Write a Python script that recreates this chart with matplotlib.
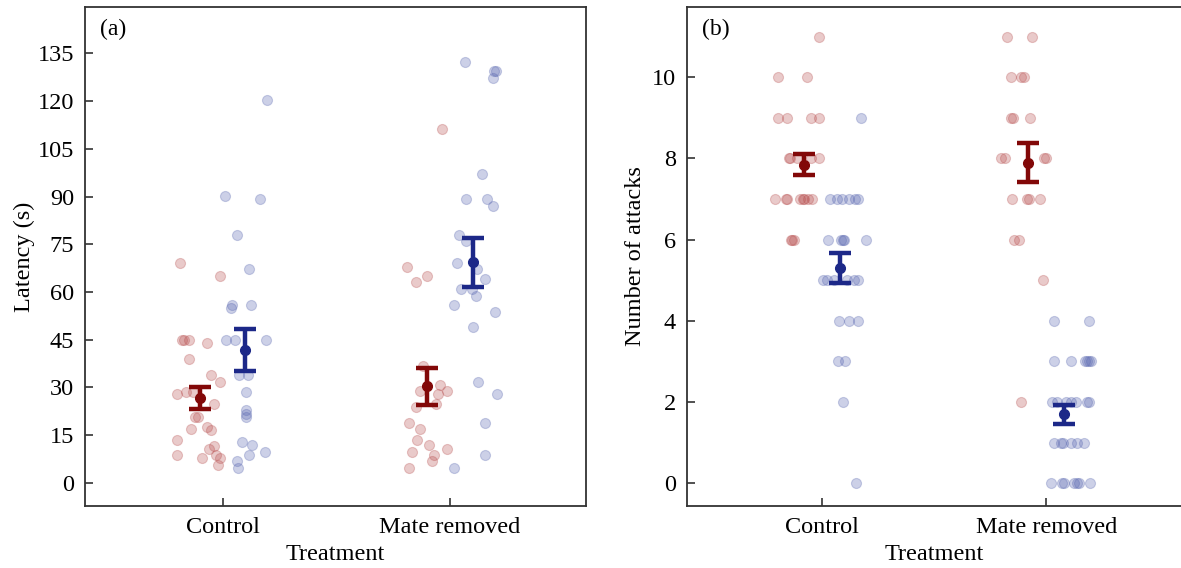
import numpy as np
import matplotlib
matplotlib.use("Agg")
import matplotlib.pyplot as plt

plt.rcParams['font.family'] = ['Liberation Serif', 'DejaVu Serif']

categories = ["Control", "Mate removed"]

# panel (a): latency, values and horizontal jitter
lat_red_ctrl = [69.0, 65.0, 45, 45, 45, 43.8, 38.9, 33.8, 31.8, 27.8, 28.7, 28.6, 24.7,
                20.8, 20.8, 16.8, 17.6, 16.6, 13.6, 11.7, 10.6, 8.7, 7.8, 8.7, 7.8, 5.6]
jit_red_ctrl = [-0.19, -0.01, -0.18, -0.17, -0.15, -0.07, -0.15, -0.05, -0.01, -0.20, -0.16, -0.13, -0.04,
                -0.12, -0.11, -0.14, -0.07, -0.05, -0.20, -0.04, -0.06, -0.20, -0.09, -0.03, -0.01, -0.02]
lat_blue_ctrl = [120.3, 90.2, 89.1, 78.0, 67.1, 55.9, 55.0, 55.9, 44.9, 44.9, 44.9, 33.8, 33.8,
                 28.6, 22.9, 21.6, 20.8, 12.7, 11.8, 9.8, 8.7, 6.7, 4.6]
jit_blue_ctrl = [0.194, 0.011, 0.164, 0.064, 0.117, 0.040, 0.035, 0.125, 0.013, 0.054, 0.189, 0.073, 0.110,
                 0.103, 0.103, 0.103, 0.103, 0.086, 0.130, 0.186, 0.117, 0.062, 0.069]
lat_red_mr = [111.2, 67.9, 65.0, 63.0, 36.7, 30.6, 28.8, 28.8, 27.8, 23.7, 24.7, 18.9, 16.8,
              13.6, 11.8, 10.7, 9.8, 8.7, 6.7, 4.6]
jit_red_mr = [-0.034, -0.188, -0.100, -0.151, -0.120, -0.044, -0.132, -0.012, -0.051, -0.151, -0.062, -0.179, -0.132,
              -0.144, -0.091, -0.012, -0.167, -0.070, -0.079, -0.179]
lat_blue_mr = [132.2, 129.5, 129.5, 127.3, 97.2, 89.1, 89.1, 87.1, 78.0, 76.1, 69.0, 67.1, 64.2,
               60.8, 60.8, 58.8, 55.9, 53.8, 48.9, 31.7, 27.8, 18.7, 8.7, 4.6]
jit_blue_mr = [0.065, 0.194, 0.203, 0.191, 0.142, 0.070, 0.164, 0.188, 0.041, 0.069, 0.029, 0.120, 0.154,
               0.048, 0.095, 0.114, 0.019, 0.198, 0.103, 0.122, 0.206, 0.154, 0.154, 0.018]
lat_mean_red = [26.7, 30.4]
lat_se_red = [3.5, 5.8]
lat_mean_blue = [41.7, 69.3]
lat_se_blue = [6.5, 7.6]

# panel (b): number of attacks
att_red_ctrl = [11, 10, 10, 9, 9, 9, 9, 8, 8, 8, 8, 8, 7, 7, 7, 7, 7, 7, 7, 7, 6, 6, 6]
jit_att_red_ctrl = [-0.011, -0.196, -0.066, -0.196, -0.154, -0.049, -0.015, -0.147, -0.144, -0.112, -0.049, -0.011,
                    -0.207, -0.161, -0.157, -0.097, -0.082, -0.079, -0.060, -0.043, -0.137, -0.133, -0.124]
att_blue_ctrl = [9, 7, 7, 7, 7, 7, 7, 6, 6, 6, 6, 6, 5, 5, 5, 5, 5, 5, 4, 4, 4, 3, 3, 2, 0]
jit_att_blue_ctrl = [0.174, 0.037, 0.067, 0.089, 0.123, 0.149, 0.163, 0.027, 0.085, 0.094, 0.100, 0.196,
                     0.007, 0.022, 0.055, 0.112, 0.141, 0.163, 0.077, 0.119, 0.159, 0.070, 0.104, 0.096, 0.152]
att_red_mr = [11, 11, 10, 10, 10, 9, 9, 9, 8, 8, 8, 8, 7, 7, 7, 7, 6, 6, 5, 2]
jit_att_red_mr = [-0.174, -0.062, -0.159, -0.115, -0.100, -0.156, -0.150, -0.073, -0.201, -0.182, -0.012, -0.003,
                  -0.152, -0.086, -0.079, -0.029, -0.145, -0.122, -0.015, -0.115]
att_blue_mr = [4, 4, 3, 3, 3, 3, 3, 3, 2, 2, 2, 2, 2, 2, 2, 1, 1, 1, 1, 1, 1, 0, 0, 0, 0, 0, 0, 0]
jit_att_blue_mr = [0.034, 0.188, 0.034, 0.112, 0.172, 0.183, 0.191, 0.197,
                   0.027, 0.049, 0.086, 0.112, 0.131, 0.183, 0.189,
                   0.034, 0.067, 0.073, 0.112, 0.138, 0.168,
                   0.019, 0.071, 0.077, 0.123, 0.138, 0.144, 0.193]
att_mean_red = [7.85, 7.90]
att_se_red = [0.27, 0.47]
att_mean_blue = [5.30, 1.70]
att_se_blue = [0.37, 0.23]

RED = '#820808'
BLUE = '#1c2888'
RED_PT = '#b85050'
BLUE_PT = '#5866b0'

fig = plt.figure(figsize=(11.81, 5.68), dpi=100)
ax1 = fig.add_axes([85/1181, 62/568, 501/1181, 499/568])
ax2 = fig.add_axes([687/1181, 62/568, 494/1181, 499/568])


def panel(ax, groups, means_red, se_red, means_blue, se_blue, dodge, capw):
    for i, (vals, jit, col) in enumerate(groups):
        ax.scatter(np.array(jit) + (i // 2), vals, s=52, color=col, alpha=0.3,
                   edgecolors=col, linewidths=0.8, zorder=2)
    xs = np.arange(len(categories))
    ax.errorbar(xs - dodge, means_red, yerr=se_red, fmt='o', color=RED, ms=7,
                elinewidth=3.2, capsize=capw, capthick=3.2, zorder=4)
    ax.errorbar(xs + dodge, means_blue, yerr=se_blue, fmt='o', color=BLUE, ms=7,
                elinewidth=3.2, capsize=capw, capthick=3.2, zorder=4)
    ax.set_xticks(xs)
    ax.set_xticklabels(categories)
    ax.set_xlabel("Treatment", fontsize=17.5, labelpad=4)
    ax.tick_params(direction='in', labelsize=17.5, length=6, width=1.2, color='#333333')
    ax.tick_params(axis='x', pad=8)
    ax.tick_params(axis='y', pad=8)
    for sp in ax.spines.values():
        sp.set_color('#333333')
        sp.set_linewidth(1.3)


panel(ax1,
      [(lat_red_ctrl, jit_red_ctrl, RED_PT), (lat_blue_ctrl, jit_blue_ctrl, BLUE_PT),
       (lat_red_mr, jit_red_mr, RED_PT), (lat_blue_mr, jit_blue_mr, BLUE_PT)],
      lat_mean_red, lat_se_red, lat_mean_blue, lat_se_blue, 0.1, 8)
ax1.set_xlim(-0.606, 1.598)
ax1.set_ylim(-7.3, 149.6)
ax1.set_yticks(np.arange(0, 136, 15))
ax1.set_ylabel("Latency (s)", fontsize=17.5, labelpad=2)
ax1.text(0.03, 0.955, "(a)", transform=ax1.transAxes, fontsize=17, va='center', ha='left')

panel(ax2,
      [(att_red_ctrl, jit_att_red_ctrl, RED_PT), (att_blue_ctrl, jit_att_blue_ctrl, BLUE_PT),
       (att_red_mr, jit_att_red_mr, RED_PT), (att_blue_mr, jit_att_blue_mr, BLUE_PT)],
      att_mean_red, att_se_red, att_mean_blue, att_se_blue, 0.08, 8)
ax2.set_xlim(-0.601, 1.6)
ax2.set_ylim(-0.56, 11.73)
ax2.set_yticks(np.arange(0, 11, 2))
ax2.set_ylabel("Number of attacks", fontsize=17.5, labelpad=4)
ax2.spines['right'].set_visible(False)
ax2.text(0.03, 0.955, "(b)", transform=ax2.transAxes, fontsize=17, va='center', ha='left')

fig.savefig("out.png", dpi=100)
